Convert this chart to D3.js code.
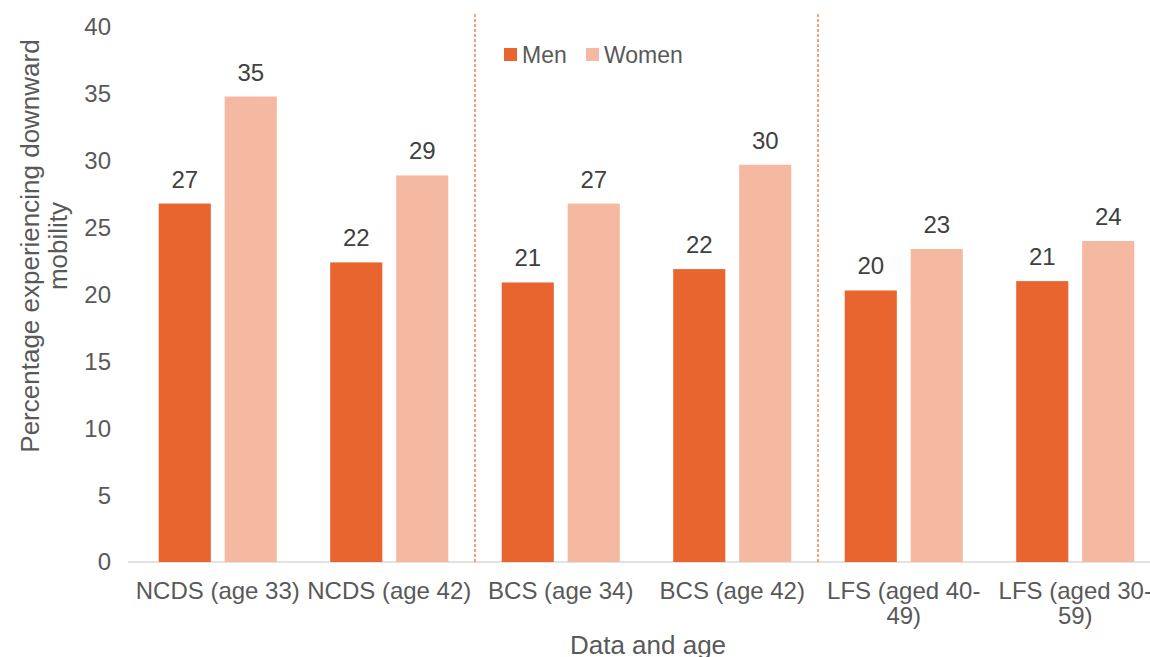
<!DOCTYPE html>
<html>
<head>
<meta charset="utf-8">
<script src="https://cdn.jsdelivr.net/npm/d3@7"></script>
<style>
  body { margin: 0; background: #fff; }
  text { font-family: "Liberation Sans", Arial, sans-serif; }
</style>
</head>
<body>
<script>
'use strict';

const width = 1150;
const height = 657;

// data
const categories = ["NCDS (age 33)", "NCDS (age 42)", "BCS (age 34)", "BCS (age 42)", "LFS (aged 40-49)", "LFS (aged 30-59)"];
const tickLines = [["NCDS (age 33)"], ["NCDS (age 42)"], ["BCS (age 34)"], ["BCS (age 42)"], ["LFS (aged 40-", "49)"], ["LFS (aged 30-", "59)"]];
const series = ["Men", "Women"];
const men = [26.8, 22.4, 20.9, 21.9, 20.3, 21.0];
const women = [34.8, 28.9, 26.8, 29.7, 23.4, 24.0];
const yTicks = [0, 5, 10, 15, 20, 25, 30, 35, 40];
const dividers = [1, 3]; // dashed line after these groups

const colors = { Men: "#E9652F", Women: "#F5B8A0" };

let svg = d3.select('body').append('svg')
    .attr('width', width)
    .attr('height', height);

let x = d3.scaleBand()
    .domain(categories)
    .range([132, 1161]);

let y = d3.scaleLinear()
    .domain([0, 40])
    .range([562, 27]);

let xInner = d3.scaleBand()
    .domain(series)
    .range([0, x.bandwidth()])
    .paddingInner(0.21)
    .paddingOuter(0.405);

// baseline
svg.append('line')
    .attr('x1', 128).attr('x2', 1150)
    .attr('y1', y(0)).attr('y2', y(0))
    .attr('stroke', '#d9d9d9')
    .attr('stroke-width', 1.3);

// y tick labels
svg.append('g').selectAll('text')
    .data(yTicks).enter()
    .append('text')
    .attr('x', 111)
    .attr('y', d => y(d))
    .attr('dy', '0.35em')
    .attr('text-anchor', 'end')
    .attr('fill', '#595959')
    .style('font-size', '24px')
    .text(d => d);

// dashed dividers
svg.append('g').selectAll('line')
    .data(dividers).enter()
    .append('line')
    .attr('x1', d => x(categories[d]) + x.bandwidth())
    .attr('x2', d => x(categories[d]) + x.bandwidth())
    .attr('y1', 14)
    .attr('y2', y(0))
    .attr('stroke', '#E9652F')
    .attr('stroke-width', 1.2)
    .attr('stroke-dasharray', '3,2');

let rows = categories.map((c, i) => ({ cat: c, Men: men[i], Women: women[i] }));

let groups = svg.append('g').selectAll('g')
    .data(rows).enter()
    .append('g')
    .attr('transform', d => `translate(${x(d.cat)},0)`);

groups.selectAll('rect')
    .data(d => series.map(s => ({ key: s, value: d[s] })))
    .enter()
    .append('rect')
    .attr('x', d => xInner(d.key))
    .attr('width', xInner.bandwidth())
    .attr('y', d => y(d.value))
    .attr('height', d => y(0) - y(d.value))
    .attr('fill', d => colors[d.key]);

groups.selectAll('text.val')
    .data(d => series.map(s => ({ key: s, value: d[s] })))
    .enter()
    .append('text')
    .attr('class', 'val')
    .attr('x', d => xInner(d.key) + xInner.bandwidth() / 2)
    .attr('y', d => y(d.value) - 16)
    .attr('text-anchor', 'middle')
    .attr('fill', '#404040')
    .style('font-size', '24px')
    .text(d => Math.round(d.value));

// x tick labels
let ticks = svg.append('g').selectAll('text')
    .data(categories).enter()
    .append('text')
    .attr('x', d => x(d) + x.bandwidth() / 2)
    .attr('y', 599)
    .attr('text-anchor', 'middle')
    .attr('fill', '#595959')
    .style('font-size', '24px');

ticks.selectAll('tspan')
    .data((d, i) => tickLines[i])
    .enter()
    .append('tspan')
    .attr('x', function() { return d3.select(this.parentNode).attr('x'); })
    .attr('dy', (d, i) => i === 0 ? 0 : 25)
    .text(d => d);

// axis titles
svg.append('text')
    .attr('x', 648)
    .attr('y', 654)
    .attr('text-anchor', 'middle')
    .attr('fill', '#595959')
    .style('font-size', '26px')
    .text('Data and age');

let yTitle = svg.append('text')
    .attr('transform', 'translate(39,246) rotate(-90)')
    .attr('text-anchor', 'middle')
    .attr('fill', '#595959')
    .style('font-size', '26px');
yTitle.append('tspan').attr('x', 0).attr('dy', 0).text('Percentage experiencing downward');
yTitle.append('tspan').attr('x', 0).attr('dy', 28).text('mobility');

// legend
let legend = svg.append('g').selectAll('g')
    .data(series).enter()
    .append('g')
    .attr('transform', (d, i) => `translate(${i === 0 ? 504 : 586},48)`);

legend.append('rect')
    .attr('width', 13)
    .attr('height', 13)
    .attr('fill', d => colors[d]);

legend.append('text')
    .attr('x', 18)
    .attr('y', 7)
    .attr('dy', '0.35em')
    .attr('fill', '#595959')
    .style('font-size', '23px')
    .text(d => d);
</script>
</body>
</html>
